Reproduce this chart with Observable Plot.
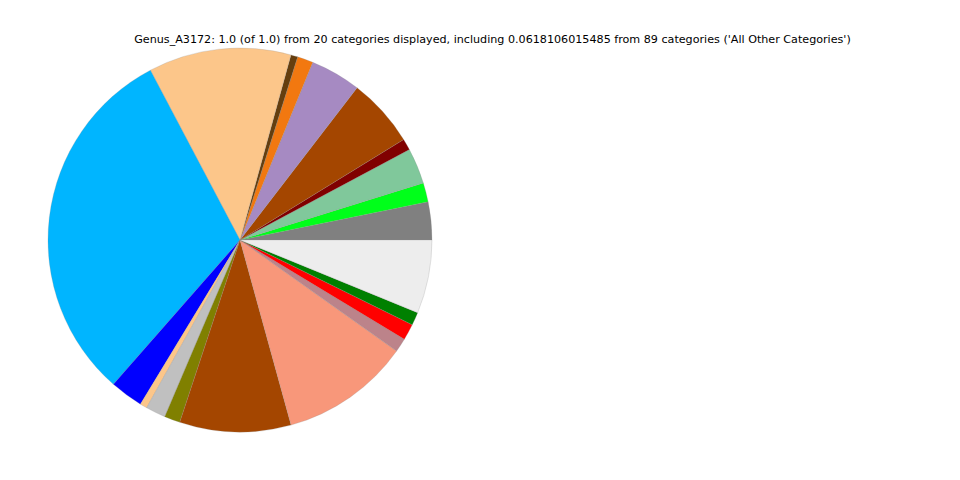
<!DOCTYPE html>
<html>
<head>
<meta charset="utf-8">
<script src="https://cdn.jsdelivr.net/npm/d3@7"></script>
<script src="https://cdn.jsdelivr.net/npm/@observablehq/plot@0.6"></script>
<style>
  html, body { margin: 0; padding: 0; background: #fff; }
</style>
</head>
<body>
<div id="chart"></div>
<script>
const titleText = "Genus_A3172: 1.0 (of 1.0) from 20 categories displayed, including 0.0618106015485 from 89 categories ('All Other Categories')";

// Slices in drawing order (counter-clockwise from 3 o'clock)
const categories = [
  "Category 1", "Category 2", "Category 3", "Category 4", "Category 5",
  "Category 6", "Category 7", "Category 8", "Category 9", "Category 10",
  "Category 11", "Category 12", "Category 13", "Category 14", "Category 15",
  "Category 16", "Category 17", "Category 18", "Category 19", "All Other Categories"
];
const values = [
  0.032, 0.016, 0.030, 0.0096, 0.058,
  0.0425, 0.0133, 0.0058, 0.120, 0.308,
  0.0278, 0.006, 0.0167, 0.0133, 0.0936,
  0.109, 0.0117, 0.0136, 0.011, 0.0618106015485
];
const colors = [
  "#808080", "#00ff1a", "#80c89b", "#800000", "#a44600",
  "#a68ac2", "#f27810", "#653e0e", "#fcc68a", "#00b5ff",
  "#0000ff", "#fcc68a", "#c0c0c0", "#808000", "#a44600",
  "#f8977a", "#bc838a", "#ff0000", "#008000", "#ededed"
];

const data = categories.map((c, i) => ({category: c, value: values[i], color: colors[i]}));

// Angles: matplotlib-style, start at 0 rad (east), counter-clockwise
const total = d3.sum(values);
let acc = 0;
const slices = data.map(d => {
  const a0 = acc / total * 2 * Math.PI;
  acc += d.value;
  const a1 = acc / total * 2 * Math.PI;
  return {...d, a0, a1};
});

// Custom pie mark drawn through Plot's x / y scales
function pieMark(rows) {
  return (index, scales) => {
    const cx = scales.x(0), cy = scales.y(0);
    const r = Math.abs(scales.x(1) - scales.x(0));
    const g = d3.create("svg:g");
    const arc = d3.arc().innerRadius(0).outerRadius(r);
    for (const s of rows) {
      // d3.arc angles are clockwise from 12 o'clock; convert
      const start = Math.PI / 2 - s.a1;
      const end = Math.PI / 2 - s.a0;
      g.append("path")
        .attr("transform", `translate(${cx},${cy})`)
        .attr("d", arc({startAngle: start, endAngle: end}))
        .attr("fill", s.color)
        .attr("stroke", "#8a8a8a")
        .attr("stroke-opacity", 0.45)
        .attr("stroke-width", 0.5)
        .append("title").text(`${s.category}: ${s.value}`);
    }
    return g.node();
  };
}

const chart = Plot.plot({
  width: 960,
  height: 480,
  margin: 0,
  x: {type: "linear", domain: [-1, 1], range: [48, 432], axis: null},
  y: {type: "linear", domain: [-1, 1], range: [432, 48], axis: null},
  style: {background: "#fff", fontFamily: "DejaVu Sans, sans-serif"},
  marks: [
    pieMark(slices),
    Plot.text([titleText], {
      frameAnchor: "top",
      dx: 12,
      dy: 39,
      lineAnchor: "middle",
      fontSize: 11.15,
      fill: "#000",
      text: d => d
    })
  ]
});

document.getElementById("chart").appendChild(chart);
</script>
</body>
</html>
